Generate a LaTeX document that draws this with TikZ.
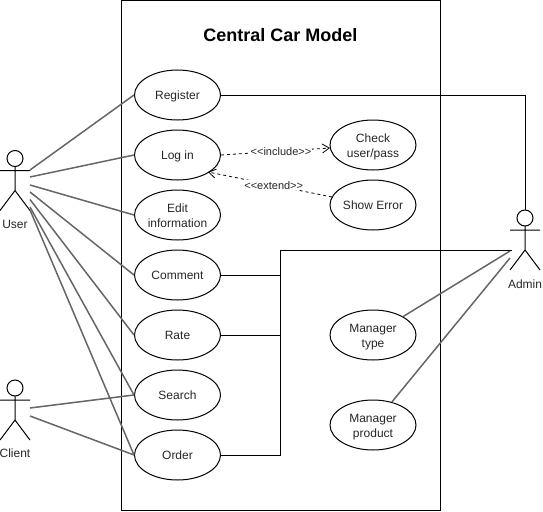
\documentclass[tikz,border=0pt]{standalone}
\usepackage{fontspec}
\setmainfont{Liberation Sans}
\usetikzlibrary{arrows.meta,shapes.geometric}
\tikzset{
  usecase/.style={draw,ellipse,line width=1pt,minimum width=86pt,minimum height=50pt,inner sep=0pt},
  uctext/.style={align=center,inner sep=0pt,font=\fontsize{12}{15}\selectfont,text=black!85},
  assoc/.style={draw=black!60,line width=1.5pt},
  wire/.style={draw=black,line width=1pt},
  dep/.style={draw=black,line width=0.8pt,dash pattern=on 3pt off 3pt,-{Straight Barb[length=7pt,width=9pt,line width=0.8pt]}},
  deplabel/.style={fill=white,inner sep=1pt,font=\fontsize{11}{13}\selectfont,text=black!85},
  limb/.style={draw=black,line width=1pt},
  actorlabel/.style={font=\fontsize{12}{14}\selectfont,text=black!85},
}
\newcommand{\ucone}[4]{% name, x, y, one line of text
  \node[usecase] (#1) at (#2,#3) {};
  \node[uctext,yshift=-1.3pt] (#1text) at (#1) {\vphantom{p}#4};
}
\newcommand{\uctwo}[5]{% name, x, y, two lines of text
  \node[usecase] (#1) at (#2,#3) {};
  \node[uctext,yshift=-2pt] (#1text) at (#1) {#4\\\vphantom{p}#5};
}
\newcommand{\stickman}[3]{% name, x, y of head centre
  \node[draw,circle,line width=1pt,minimum size=16pt,inner sep=0pt] (#1head) at (#2,#3) {};
  \coordinate (#1neck) at (#2,#3+8);
  \coordinate (#1hip) at (#2,#3+32);
  \coordinate (#1l) at (#2-15,#3+12);
  \coordinate (#1r) at (#2+15,#3+12);
  \coordinate (#1fl) at (#2-15,#3+52);
  \coordinate (#1fr) at (#2+15,#3+52);
  \draw[limb] (#1neck) -- (#1hip) (#1l) -- (#1r) (#1fl) -- (#1hip) -- (#1fr);
}
\begin{document}
\begin{tikzpicture}[x=1pt,y=-1pt]
\useasboundingbox (0,0) rectangle (543,511);
\node[draw,line width=1pt,minimum width=319pt,minimum height=510pt,inner sep=0pt,anchor=north west] (system) at (120.5,0) {};
\node[font=\bfseries\fontsize{18}{22}\selectfont] (title) at (280.5,35) {Central Car Model};

\ucone{register}{177.5}{95}{Register}
\ucone{login}{177.5}{155}{Log in}
\uctwo{edit}{177.5}{215}{Edit}{information}
\ucone{comment}{177.5}{275}{Comment}
\ucone{rate}{177.5}{335}{Rate}
\ucone{search}{177.5}{395}{Search}
\ucone{order}{177.5}{455}{Order}
\uctwo{check}{373}{145}{Check}{user/pass}
\ucone{showerror}{373}{205}{Show Error}
\uctwo{mtype}{373}{335}{Manager}{type}
\uctwo{mproduct}{373}{425}{Manager}{product}

\stickman{user}{15}{158.5}
\node[actorlabel] (userlabel) at (15,224) {User};
\stickman{client}{15}{388}
\node[actorlabel] (clientlabel) at (15,453) {Client};
\stickman{admin}{525}{218}
\node[actorlabel] (adminlabel) at (525,284) {Admin};

\coordinate (u1) at (30,170);
\coordinate (u2) at (30,177);
\coordinate (u3) at (30,185);
\coordinate (u4) at (30,192);
\coordinate (u5) at (30,199.5);
\coordinate (u6) at (30,207);
\coordinate (u7) at (30,210);
\coordinate (c1) at (30,408);
\coordinate (c2) at (30,416);
\coordinate (a1) at (510,251);
\coordinate (a2) at (510,258);

\draw[assoc] (u1) -- (register.west);
\draw[assoc] (u2) -- (login.west);
\draw[assoc] (u3) -- (edit.west);
\draw[assoc] (u4) -- (comment.west);
\draw[assoc] (u5) -- (rate.west);
\draw[assoc] (u6) -- (search.west);
\draw[assoc] (u7) -- (order.west);
\draw[assoc] (c1) -- (search.west);
\draw[assoc] (c2) -- (order.west);
\draw[assoc] (a1) -- (mtype);
\draw[assoc] (a2) -- (mproduct);

\coordinate (bus) at (280,250);
\coordinate (adminend) at (512,250);
\draw[wire] (register.east) -| (adminhead.north);
\draw[wire] (comment.east) -| (bus) -- (adminend);
\draw[wire] (rate.east) -- (rate.east -| bus);
\draw[wire] (order.east) -| (bus);

\coordinate (inctip) at (330,148);
\coordinate (extstart) at (332,197);
\coordinate (exttip) at (208,172);
\draw[dep] (login.east) -- node[deplabel,pos=0.55] (inc) {{<}{<}include{>}{>}} (inctip);
\draw[dep] (extstart) -- node[deplabel,pos=0.47] (ext) {{<}{<}extend{>}{>}} (exttip);
\end{tikzpicture}
\end{document}
